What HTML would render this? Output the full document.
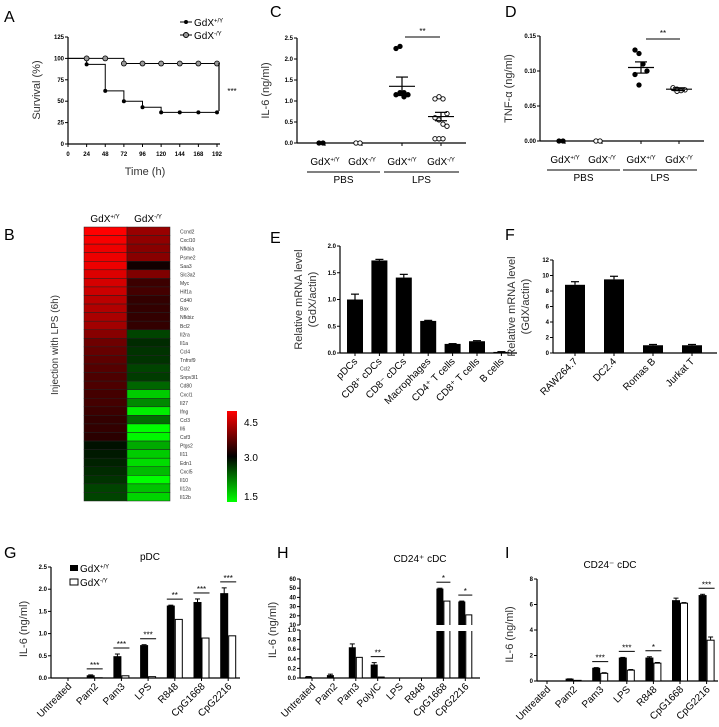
<!DOCTYPE html>
<html><head><meta charset="utf-8"><style>
body{margin:0;background:#fff}
svg{display:block;font-family:"Liberation Sans",Arial,sans-serif}
</style></head><body>
<svg id="fig" width="719" height="727" viewBox="0 0 719 727">
<g font-size="16">
<text x="4" y="22">A</text><text x="270" y="17">C</text><text x="505" y="17">D</text>
<text x="4" y="240">B</text><text x="270" y="243">E</text><text x="505" y="240">F</text>
<text x="4" y="558">G</text><text x="277" y="558">H</text><text x="505" y="558">I</text>
</g>
</svg>
<script>
const NS='http://www.w3.org/2000/svg';
const svg=document.getElementById('fig');
function el(tag,attrs,parent,text){const e=document.createElementNS(NS,tag);for(const k in attrs)e.setAttribute(k,attrs[k]);if(text!==undefined)e.textContent=text;(parent||svg).appendChild(e);return e;}
function sup(parent,x,y,base,s,size,anchor){const t=el('text',{x:x,y:y,'font-size':size,'text-anchor':anchor||'middle'},parent);t.appendChild(document.createTextNode(base));const ts=document.createElementNS(NS,'tspan');ts.setAttribute('dy',-size*0.35);ts.setAttribute('font-size',size*0.6);ts.textContent=s;t.appendChild(ts);return t;}

// ---------- Panel A data ----------
const survTimes=[0,24,48,72,96,120,144,168,192];
const survWT=[100,93,62,50,43,37,37,37,37];
const survKO=[100,100,100,94,94,94,94,94,94];
const survYTicks=[0,25,50,75,100,125];
// ---------- Panel C/D data ----------
const cGroups=['GdX+/Y','GdX-/Y','GdX+/Y','GdX-/Y'];
const il6Points=[[0,0],[0,0],[2.25,2.3,1.2,1.15,1.15,1.2,1.1],[1.05,1.1,1.05,0.7,0.6,0.55,0.45,0.4,0.1,0.1,0.1]];
const il6Mean=[0,0,1.35,0.63];
const il6Sem=[0,0,0.22,0.1];
const tnfPoints=[[0,0],[0,0],[0.13,0.125,0.11,0.1,0.095,0.08],[0.075,0.074,0.072,0.073,0.076,0.071]];
const tnfMean=[0,0,0.105,0.074];
const tnfSem=[0,0,0.008,0.002];
// ---------- Panel B data ----------
const genes=['Ccnd2','Cxcl10','Nfkbia','Psme2','Saa3','Slc3a2','Myc','Hif1a','Cd40','Bax','Nfkbiz','Bcl2','Il2ra','Il1a','Ccl4','Tnfrsf9','Ccl2','Snpv3l1','Cd80','Cxcl1','Il27','Ifng','Ccl3','Il6','Csf3','Ptgs2','Il11','Edn1','Cxcl5','Il10','Il12a','Il12b'];
const heatWT=[4.5,4.45,4.4,4.4,4.4,4.3,4.25,4.2,4.1,4.05,4.0,3.95,3.8,3.65,3.6,3.55,3.5,3.45,3.45,3.4,3.4,3.35,3.3,3.3,3.25,2.9,2.85,2.8,2.75,2.7,2.6,2.6];
const heatKO=[3.9,3.85,3.8,3.8,3.1,3.75,3.35,3.4,3.3,3.3,3.3,3.3,2.6,2.75,2.7,2.7,2.6,2.65,2.4,1.8,2.2,1.6,2.35,1.5,1.55,2.0,1.8,1.7,1.9,1.5,1.85,1.75];
// ---------- Panel E/F data ----------
const eCats=['pDCs','CD8⁺ cDCs','CD8⁻ cDCs','Macrophages','CD4⁺ T cells','CD8⁺ T cells','B cells'];
const eVals=[1.0,1.73,1.41,0.6,0.17,0.22,0.02];
const eErr=[0.1,0.02,0.06,0.01,0.005,0.01,0.005];
const fCats=['RAW264.7','DC2.4','Romas B','Jurkat T'];
const fVals=[8.8,9.5,1.0,1.0];
const fErr=[0.4,0.4,0.1,0.1];
// ---------- Panel G/H/I data ----------
const gCats=['Untreated','Pam2','Pam3','LPS','R848','CpG1668','CpG2216'];
const gWT=[0,0.05,0.48,0.73,1.62,1.7,1.9];
const gKO=[0,0.005,0.05,0.03,1.32,0.9,0.95];
const gErrWT=[0,0.02,0.06,0.02,0.02,0.08,0.13];
const gSig=['','***','***','***','**','***','***'];
const hCats=['Untreated','Pam2','Pam3','PolyIC','LPS','R848','CpG1668','CpG2216'];
const hWT=[0.02,0.05,0.63,0.27,0,0,49,35];
const hKO=[0,0,0.43,0.02,0,0,36,21];
const hErrWT=[0.01,0.03,0.08,0.05,0,0,1,1];
const hSig=['','','','**','','','*','*'];
const iCats=['Untreated','Pam2','Pam3','LPS','R848','CpG1668','CpG2216'];
const iWT=[0,0.15,1.0,1.8,1.8,6.3,6.7];
const iKO=[0,0.05,0.6,0.85,1.4,6.1,3.2];
const iErrWT=[0,0.02,0.05,0.05,0.1,0.2,0.1];
const iErrKO=[0,0,0.05,0.05,0.05,0.05,0.25];
const iSig=['','','***','***','*','','***'];

function lin(d0,d1,r0,r1){return v=>r0+(v-d0)*(r1-r0)/(d1-d0);}
function yAxis(g,x,y0,y1,ticks,scale,fmt,fs){el('line',{x1:x,y1:y0,x2:x,y2:y1,stroke:'#000','stroke-width':1.2},g);ticks.forEach(t=>{const y=scale(t);el('line',{x1:x-3,y1:y,x2:x,y2:y,stroke:'#000'},g);el('text',{x:x-4,y:y+2,'font-size':fs||6,'text-anchor':'end','font-weight':'bold'},g,fmt?fmt(t):t);});}
function ytitle(g,x,y,txt,fs){el('text',{x:x,y:y,'font-size':fs||11,'text-anchor':'middle',transform:`rotate(-90 ${x} ${y})`,fill:'#333'},g,txt);}

// ===== Panel A =====
(function(){
const g=el('g',{});
const x=lin(0,192,68,217), y=lin(0,125,144,37);
yAxis(g,68,37,144,survYTicks,y,null,6);
el('line',{x1:68,y1:144,x2:220,y2:144,stroke:'#000','stroke-width':1.2},g);
survTimes.forEach(t=>{el('line',{x1:x(t),y1:144,x2:x(t),y2:147,stroke:'#000'},g);el('text',{x:x(t),y:156,'font-size':6,'text-anchor':'middle','font-weight':'bold'},g,t);});
el('text',{x:145,y:175,'font-size':11,'text-anchor':'middle',fill:'#333'},g,'Time (h)');
ytitle(g,40,90,'Survival (%)',11);
function steps(vals){let d=`M${x(survTimes[0])},${y(vals[0])}`;for(let i=1;i<vals.length;i++){d+=`H${x(survTimes[i])}V${y(vals[i])}`;}return d;}
const lw=el('path',{d:steps(survWT),fill:'none',stroke:'#000','stroke-width':1},g);

const lk=el('path',{d:steps(survKO),fill:'none',stroke:'#000','stroke-width':1},g);

survTimes.forEach((t,i)=>{if(i==0)return;
 const p=el('circle',{cx:x(t),cy:y(survWT[i]),r:2,fill:'#000'},g);
 const q=el('circle',{cx:x(t),cy:y(survKO[i]),r:2.5,fill:'#999',stroke:'#000','stroke-width':0.8},g);});
el('line',{x1:219,y1:63,x2:219,y2:111,stroke:'#000','stroke-width':1.2},g);
el('text',{x:232,y:94,'font-size':8,'text-anchor':'middle'},g,'***');
const lg=el('g',{},g);
el('line',{x1:180,y1:22,x2:192,y2:22,stroke:'#000'},lg);el('circle',{cx:186,cy:22,r:2,fill:'#000'},lg);sup(lg,194,26,'GdX','+/Y',10,'start');
el('line',{x1:180,y1:35,x2:192,y2:35,stroke:'#000'},lg);el('circle',{cx:186,cy:35,r:2.5,fill:'#999',stroke:'#000'},lg);sup(lg,194,39,'GdX','-/Y',10,'start');
})();

// ===== Dot panels C & D =====
function dotPanel(name,ax,y0,y1,maxV,ticks,fmt,gx,pts,mean,sem,title,sigX1,sigX2,sigY){
const g=el('g',{});
const y=lin(0,maxV,y0,y1);
yAxis(g,ax,y1,y0,ticks,y,fmt,6);
el('line',{x1:ax,y1:y0,x2:gx[3]+25,y2:y0,stroke:'#000','stroke-width':1.2},g);
ytitle(g,ax-28,(y0+y1)/2,title,11);
gx.forEach((cx,i)=>{
 el('line',{x1:cx,y1:y0,x2:cx,y2:y0+3,stroke:'#000'},g);
 sup(g,cx,y0+22,'GdX',i%2?'-/Y':'+/Y',10);
 pts[i].forEach((v,j)=>{const off=(j%4-1.5)*4;const c=el('circle',{cx:cx+off,cy:y(v),r:2.2,fill:i%2?'#fff':'#000',stroke:'#000','stroke-width':0.9},g);});
 if(mean[i]>0){el('line',{x1:cx-13,y1:y(mean[i]),x2:cx+13,y2:y(mean[i]),stroke:'#000','stroke-width':1.2},g);
  el('line',{x1:cx,y1:y(mean[i]-sem[i]),x2:cx,y2:y(mean[i]+sem[i]),stroke:'#000','stroke-width':1.2},g);
  [mean[i]-sem[i],mean[i]+sem[i]].forEach(v=>el('line',{x1:cx-6,y1:y(v),x2:cx+6,y2:y(v),stroke:'#000','stroke-width':1.2},g));}
});
el('line',{x1:gx[0]-18,y1:y0+29,x2:gx[1]+18,y2:y0+29,stroke:'#000'},g);
el('line',{x1:gx[2]-18,y1:y0+29,x2:gx[3]+18,y2:y0+29,stroke:'#000'},g);
el('text',{x:(gx[0]+gx[1])/2,y:y0+40,'font-size':10,'text-anchor':'middle'},g,'PBS');
el('text',{x:(gx[2]+gx[3])/2,y:y0+40,'font-size':10,'text-anchor':'middle'},g,'LPS');
el('line',{x1:sigX1,y1:sigY,x2:sigX2,y2:sigY,stroke:'#000'},g);
el('text',{x:(sigX1+sigX2)/2,y:sigY-3,'font-size':8,'text-anchor':'middle'},g,'**');
}
dotPanel('panel-c-il6',297,143,38,2.5,[0,0.5,1,1.5,2,2.5],t=>t.toFixed(1),[325,362,402,441],il6Points,il6Mean,il6Sem,'IL-6 (ng/ml)',405,440,37);
dotPanel('panel-d-tnf',540,141,36,0.15,[0,0.05,0.1,0.15],t=>t.toFixed(2),[565,602,641,679],tnfPoints,tnfMean,tnfSem,'TNF-α (ng/ml)',646,680,39);

// ===== Panel B heatmap =====
(function(){
const g=el('g',{});
function col(v){if(v>=3){const r=Math.round(Math.min(1,(v-3)/1.5)*255);return `rgb(${r},0,0)`;}const gg=Math.round(Math.min(1,(3-v)/1.5)*255);return `rgb(0,${gg},0)`;}
const top=227,rh=274/genes.length;
sup(g,105,222,'GdX','+/Y',10);sup(g,148,222,'GdX','-/Y',10);
genes.forEach((gn,i)=>{
 const y=top+i*rh;
 const a=el('rect',{x:84,y:y,width:43,height:rh,fill:col(heatWT[i]),stroke:'#222','stroke-width':0.5},g);
 const b=el('rect',{x:127,y:y,width:43,height:rh,fill:col(heatKO[i]),stroke:'#222','stroke-width':0.5},g);
 el('text',{x:180,y:y+rh-2,'font-size':5,fill:'#333'},g,gn);
});
ytitle(g,58,345,'Injection with LPS (6h)',10);
const defs=el('defs',{},g);const lgd=el('linearGradient',{id:'cb',x1:0,y1:0,x2:0,y2:1},defs);
el('stop',{offset:'0','stop-color':'#ff0000'},lgd);el('stop',{offset:'0.5','stop-color':'#000'},lgd);el('stop',{offset:'1','stop-color':'#00ff00'},lgd);
el('rect',{x:227,y:411,width:10,height:91,fill:'url(#cb)',},g);
el('text',{x:244,y:426,'font-size':10},g,'4.5');el('text',{x:244,y:461,'font-size':10},g,'3.0');el('text',{x:244,y:500,'font-size':10},g,'1.5');
})();

// ===== Bar panels E & F =====
function simpleBars(name,ax,axEnd,y0,y1,maxV,ticks,fmt,cats,vals,errs,x0,step,bw,fs){
const g=el('g',{});
const y=lin(0,maxV,y0,y1);
yAxis(g,ax,y1,y0,ticks,y,fmt,6);
el('line',{x1:ax,y1:y0,x2:axEnd,y2:y0,stroke:'#000','stroke-width':1.2},g);
cats.forEach((c,i)=>{const cx=x0+i*step;
 const r=el('rect',{x:cx-bw/2,y:y(vals[i]),width:bw,height:y0-y(vals[i]),fill:'#000'},g);
 const ye=y(vals[i]+errs[i]);el('line',{x1:cx,y1:ye,x2:cx,y2:y(vals[i]),stroke:'#000','stroke-width':1.2},g);el('line',{x1:cx-4,y1:ye,x2:cx+4,y2:ye,stroke:'#000','stroke-width':1.2},g);
 el('line',{x1:cx,y1:y0,x2:cx,y2:y0+3,stroke:'#000'},g);
 el('text',{x:cx+3,y:y0+9,'font-size':fs,'text-anchor':'end',transform:`rotate(-45 ${cx+3} ${y0+9})`},g,c);
});
ytitle(g,ax-38,(y0+y1)/2,'Relative  mRNA  level',11);ytitle(g,ax-24,(y0+y1)/2,'(GdX/actin)',11);
}
simpleBars('panel-e-tissues',340,517,353,246,2.0,[0,0.5,1,1.5,2],t=>t.toFixed(1),eCats,eVals,eErr,355,24.4,16,10);
simpleBars('panel-f-celllines',553,717,353,260,12,[0,2,4,6,8,10,12],null,fCats,fVals,fErr,575,39,20,10);

// ===== Grouped bar panels G, H, I =====
function groupBars(name,ax,axEnd,y0,y,ticks,fmt,cats,wt,ko,errWT,errKO,sig,x0,step,bw,title,tx,ty,breakY){
const g=el('g',{});
el('line',{x1:ax,y1:y0,x2:axEnd,y2:y0,stroke:'#000','stroke-width':1.2},g);
ytitle(g,ax-24,(y0+ty+10)/2+5,'IL-6 (ng/ml)',11);
el('text',{x:tx,y:ty,'font-size':10,'text-anchor':'middle'},g,title);
cats.forEach((c,i)=>{const cx=x0+i*step;
 [[wt,'#000',-1,errWT],[ko,'#fff',1,errKO]].forEach(([arr,fill,sd,err])=>{const v=arr[i];const bx=sd<0?cx-bw-0.5:cx+0.5;
  const r=el('rect',{x:bx,y:y(v),width:bw,height:Math.max(0,y0-y(v)),fill:fill,stroke:'#000','stroke-width':1},g);
  if(err&&err[i]>0){const bcx=bx+bw/2,ye=y(v+err[i]);el('line',{x1:bcx,y1:ye,x2:bcx,y2:y(v),stroke:'#000'},g);el('line',{x1:bcx-2.5,y1:ye,x2:bcx+2.5,y2:ye,stroke:'#000'},g);}
 });
 if(breakY&&wt[i]>5){el('rect',{x:cx-bw-2,y:breakY[0],width:2*bw+4,height:breakY[1]-breakY[0],fill:'#fff'},g);}
 if(sig[i]){const top=Math.min(y(wt[i]+(errWT?errWT[i]:0)),y(ko[i]))-6;el('line',{x1:cx-bw-1,y1:top,x2:cx+bw+1,y2:top,stroke:'#000'},g);el('text',{x:cx,y:top-1,'font-size':8,'text-anchor':'middle'},g,sig[i]);}
 el('line',{x1:cx,y1:y0,x2:cx,y2:y0+3,stroke:'#000'},g);
 el('text',{x:cx+4,y:y0+9,'font-size':10,'text-anchor':'end',transform:`rotate(-45 ${cx+4} ${y0+9})`},g,c);
});
return g;}
// G
(function(){const y=lin(0,2.5,678,567);
const g=groupBars('panel-g-pdc',51,240,678,y,[],null,gCats,gWT,gKO,gErrWT,null,gSig,68,26.7,7,'pDC',150,560);
yAxis(g,51,567,678,[0,0.5,1,1.5,2,2.5],y,t=>t.toFixed(1),6);
const lg=el('g',{},g);
el('rect',{x:70,y:565,width:8,height:6,fill:'#000'},lg);sup(lg,80,572,'GdX','+/Y',10,'start');
el('rect',{x:70,y:579,width:8,height:6,fill:'#fff',stroke:'#000'},lg);sup(lg,80,586,'GdX','-/Y',10,'start');})();
// H (broken axis)
(function(){
const yl=lin(0,1,678,630), yu=lin(10,60,625,579);
const y=v=>v<=1?yl(v):(v<10?627:yu(v));
const g=groupBars('panel-h-cd24pos',300,480,678,y,[],null,hCats,hWT,hKO,hErrWT,null,hSig,312,21.9,6,'CD24⁺ cDC',420,562,[625,631]);
el('line',{x1:300,y1:678,x2:300,y2:630,stroke:'#000','stroke-width':1.2},g);
el('line',{x1:300,y1:625,x2:300,y2:579,stroke:'#000','stroke-width':1.2},g);
[0,0.2,0.4,0.6,0.8,1.0].forEach(t=>{el('line',{x1:297,y1:yl(t),x2:300,y2:yl(t),stroke:'#000'},g);el('text',{x:296,y:yl(t)+2,'font-size':6,'text-anchor':'end','font-weight':'bold'},g,t.toFixed(1));});
[10,20,30,40,50,60].forEach(t=>{el('line',{x1:297,y1:yu(t),x2:300,y2:yu(t),stroke:'#000'},g);el('text',{x:296,y:yu(t)+2,'font-size':6,'text-anchor':'end','font-weight':'bold'},g,t);});
})();
// I
(function(){const y=lin(0,8,681,579);
const g=groupBars('panel-i-cd24neg',537,718,681,y,[],null,iCats,iWT,iKO,iErrWT,iErrKO,iSig,547,26.6,7,'CD24⁻ cDC',610,568);
yAxis(g,537,579,681,[0,2,4,6,8],y,null,6);})();
</script>
</body></html>
